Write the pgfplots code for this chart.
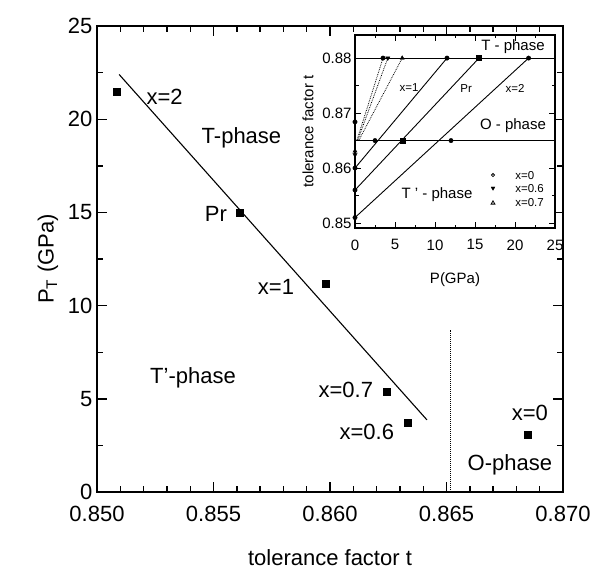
\documentclass[border=0pt]{standalone}
\usepackage{fontspec}
\setmainfont{Liberation Sans}
\usepackage{pgfplots}
\pgfplotsset{compat=1.18}

\newcommand{\bigf}{\fontsize{22}{26}\selectfont}
\newcommand{\midf}{\fontsize{15}{18}\selectfont}
\newcommand{\smf}{\fontsize{11.5}{14}\selectfont}

\begin{document}
\begin{tikzpicture}
\path[use as bounding box] (-97pt,-82pt) rectangle (494pt,492pt);
% main plot: critical pressure vs tolerance factor
\begin{axis}[
  name=main, at={(0,0)}, anchor=south west,
  scale only axis, width=466pt, height=466pt,
  xmin=0.850, xmax=0.870, ymin=0, ymax=25,
  xtick={0.850,0.855,0.860,0.865,0.870}, ytick={0,5,10,15,20,25},
  minor x tick num=4, minor y tick num=1,
  tick align=inside,
  major tick length=10pt, minor tick length=6pt,
  xtick style={black, line width=1.4pt}, ytick style={black, line width=1.4pt},
  axis line style={line width=1.4pt},
  font=\bigf,
  xticklabel style={/pgf/number format/assume math mode=true, yshift=-11pt,
    /pgf/number format/.cd, fixed, fixed zerofill, precision=3},
  yticklabel style={/pgf/number format/assume math mode=true, xshift=-1pt},
  xlabel={tolerance factor t}, ylabel={P\textsubscript{T} (GPa)},
  xlabel style={yshift=-21pt}, ylabel style={yshift=3pt},
  clip=false,
]
  \addplot[black, line width=1.1pt] coordinates {(0.85095,22.4) (0.86416,3.87)};
  \addplot[black, densely dotted, line width=1pt] coordinates {(0.86519,0) (0.86519,8.7)};
  \addplot[only marks, mark=square*, mark size=3.5pt, black] coordinates {
    (0.85086,21.5) (0.85614,15.0) (0.8598,11.2) (0.86245,5.4) (0.86335,3.7) (0.8685,3.1)};
  \node at (axis cs:0.8529,21.2) {x=2};
  \node at (axis cs:0.8562,19.0) {T-phase};
  \node at (axis cs:0.8551,14.9) {Pr};
  \node at (axis cs:0.85768,11.0) {x=1};
  \node at (axis cs:0.85412,6.1) {T'-phase};
  \node[anchor=east] at (axis cs:0.86200,5.5) {x=0.7};
  \node[anchor=east] at (axis cs:0.86290,3.2) {x=0.6};
  \node at (axis cs:0.86858,4.25) {x=0};
  \node at (axis cs:0.86772,1.45) {O-phase};
\end{axis}

% inset: tolerance factor vs pressure
\begin{axis}[
  name=ins, at={(258pt,264pt)}, anchor=south west,
  scale only axis, width=200pt, height=193pt,
  xmin=0, xmax=25, ymin=0.8491, ymax=0.8842,
  xtick={0,5,10,15,20,25}, ytick={0.85,0.86,0.87,0.88},
  minor x tick num=1, minor y tick num=1,
  tick align=inside,
  major tick length=6pt, minor tick length=3.5pt,
  xtick style={black, line width=1pt}, ytick style={black, line width=1pt},
  axis line style={line width=1.2pt},
  axis background/.style={fill=white},
  font=\midf,
  xticklabel style={/pgf/number format/assume math mode=true, yshift=-8pt},
  yticklabel style={/pgf/number format/assume math mode=true,
    /pgf/number format/.cd, fixed, fixed zerofill, precision=2},
  xlabel={P(GPa)}, ylabel={tolerance factor t},
  xlabel style={yshift=-16pt}, ylabel style={yshift=2pt},
  clip=false,
]
  \addplot[black, line width=0.9pt] coordinates {(0,0.880) (25,0.880)};
  \addplot[black, line width=0.9pt] coordinates {(0,0.865) (25,0.865)};
  \addplot[black, line width=0.9pt] coordinates {(0,0.860) (11.5,0.880)};
  \addplot[black, line width=0.9pt] coordinates {(0,0.856) (15.5,0.880)};
  \addplot[black, line width=0.9pt] coordinates {(0,0.851) (21.7,0.880)};
  \addplot[black, densely dotted, line width=0.8pt] coordinates {(0.25,0.8651) (3.5,0.880)};
  \addplot[black, densely dotted, line width=0.8pt] coordinates {(0.35,0.8651) (4.1,0.880)};
  \addplot[black, densely dotted, line width=0.8pt] coordinates {(0.5,0.8651) (5.9,0.880)};
  \addplot[only marks, mark=*, mark size=2.2pt, black] coordinates {
    (11.5,0.880) (21.7,0.880) (3.5,0.880) (2.5,0.865) (12,0.865)
    (0,0.8684) (0,0.860) (0,0.856) (0,0.851)};
  \addplot[only marks, mark=square*, mark size=2.6pt, black] coordinates {
    (15.5,0.880) (6,0.865)};
  \addplot[only marks, mark=triangle*, mark size=2.4pt, black] coordinates {
    (5.9,0.880) (0,0.8631)};
  \addplot[only marks, mark=triangle*, mark options={rotate=180}, mark size=2.4pt, black] coordinates {
    (4.1,0.880) (0,0.8624)};
  % legend
  \addplot[only marks, mark=o, mark size=1.6pt, black, thick] coordinates {(17.25,0.85873)};
  \addplot[only marks, mark=triangle*, mark options={rotate=180}, mark size=2.2pt, black] coordinates {(17.25,0.85636)};
  \addplot[only marks, mark=triangle, mark size=2.2pt, black, thick] coordinates {(17.25,0.85364)};
  \node[anchor=west, font=\smf] at (axis cs:19.6,0.85873) {x=0};
  \node[anchor=west, font=\smf] at (axis cs:19.6,0.85636) {x=0.6};
  \node[anchor=west, font=\smf] at (axis cs:19.6,0.85364) {x=0.7};
  \node at (axis cs:19.75,0.8821) {T - phase};
  \node at (axis cs:19.75,0.86764) {O - phase};
  \node at (axis cs:10.25,0.85509) {T ' - phase};
  \node[font=\smf] at (axis cs:6.75,0.87473) {x=1};
  \node[font=\smf] at (axis cs:13.9,0.8745) {Pr};
  \node[font=\smf] at (axis cs:20,0.8745) {x=2};
\end{axis}
\end{tikzpicture}
\end{document}
